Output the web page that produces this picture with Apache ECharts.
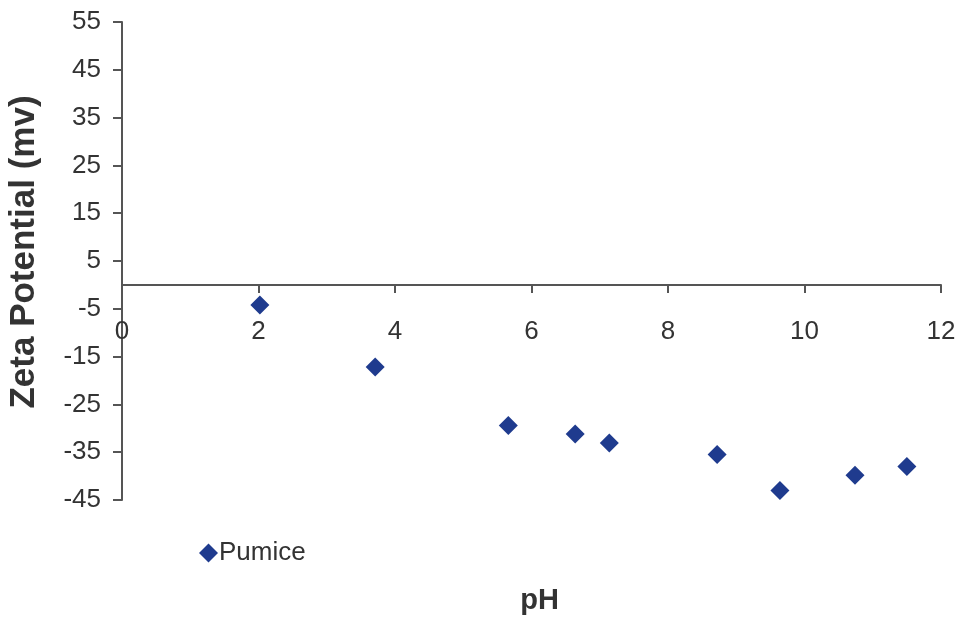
<!DOCTYPE html>
<html>
<head>
<meta charset="utf-8">
<script src="https://cdn.jsdelivr.net/npm/echarts@6/dist/echarts.min.js"></script>
<style>
  html, body { margin: 0; padding: 0; background: #fff; }
  #chart { width: 961px; height: 621px; }
</style>
</head>
<body>
<div id="chart"></div>
<script>
// Zeta potential of pumice against pH
const seriesName = 'Pumice';
const phValues = [2.02, 3.71, 5.66, 6.64, 7.14, 8.72, 9.64, 10.74, 11.50];
const zetaValues = [-4.2, -17.2, -29.4, -31.2, -33.1, -35.5, -43.0, -39.8, -38.0];

const points = phValues.map((x, i) => [x, zetaValues[i]]);

const font = 'Liberation Sans, Arial, sans-serif';
const axisColor = '#555';
const textColor = '#333';
const markColor = '#1f3b8e';

const chart = echarts.init(document.getElementById('chart'), null, { renderer: 'canvas' });
chart.setOption({
  animation: false,
  backgroundColor: '#fff',
  grid: { left: 122, right: 20, top: 22, bottom: 121, containLabel: false, outerBoundsMode: 'none' },
  legend: {
    left: 194, top: 535,
    itemWidth: 19, itemHeight: 19, itemGap: 4,
    icon: 'diamond',
    textStyle: { fontFamily: font, fontSize: 26, color: textColor, padding: [0, 0, 0, -4] },
    data: [seriesName]
  },
  xAxis: {
    type: 'value', min: 0, max: 12, interval: 2,
    name: 'pH', nameLocation: 'middle', nameGap: 86,
    nameTextStyle: { fontFamily: font, fontSize: 29, fontWeight: 'bold', color: textColor, padding: [0, 0, 0, 16] },
    axisLine: { onZero: true, lineStyle: { color: axisColor, width: 2 } },
    axisTick: { show: true, length: 8, lineStyle: { color: axisColor, width: 2 } },
    axisLabel: { margin: -181, fontFamily: font, fontSize: 26, color: textColor },
    splitLine: { show: false }
  },
  yAxis: {
    type: 'value', min: -45, max: 55, interval: 10,
    name: 'Zeta Potential (mv)', nameLocation: 'middle', nameGap: 80,
    nameTextStyle: { fontFamily: font, fontSize: 35, fontWeight: 'bold', color: textColor, padding: [0, 0, 0, 18] },
    axisLine: { show: true, onZero: false, lineStyle: { color: axisColor, width: 2 } },
    axisTick: { show: true, length: 9, lineStyle: { color: axisColor, width: 2 } },
    axisLabel: { margin: 21, fontFamily: font, fontSize: 26, color: textColor },
    splitLine: { show: false }
  },
  series: [{
    name: seriesName,
    type: 'scatter',
    symbol: 'diamond',
    symbolSize: 19,
    itemStyle: { color: markColor, opacity: 1 },
    data: points
  }]
});
</script>
</body>
</html>
